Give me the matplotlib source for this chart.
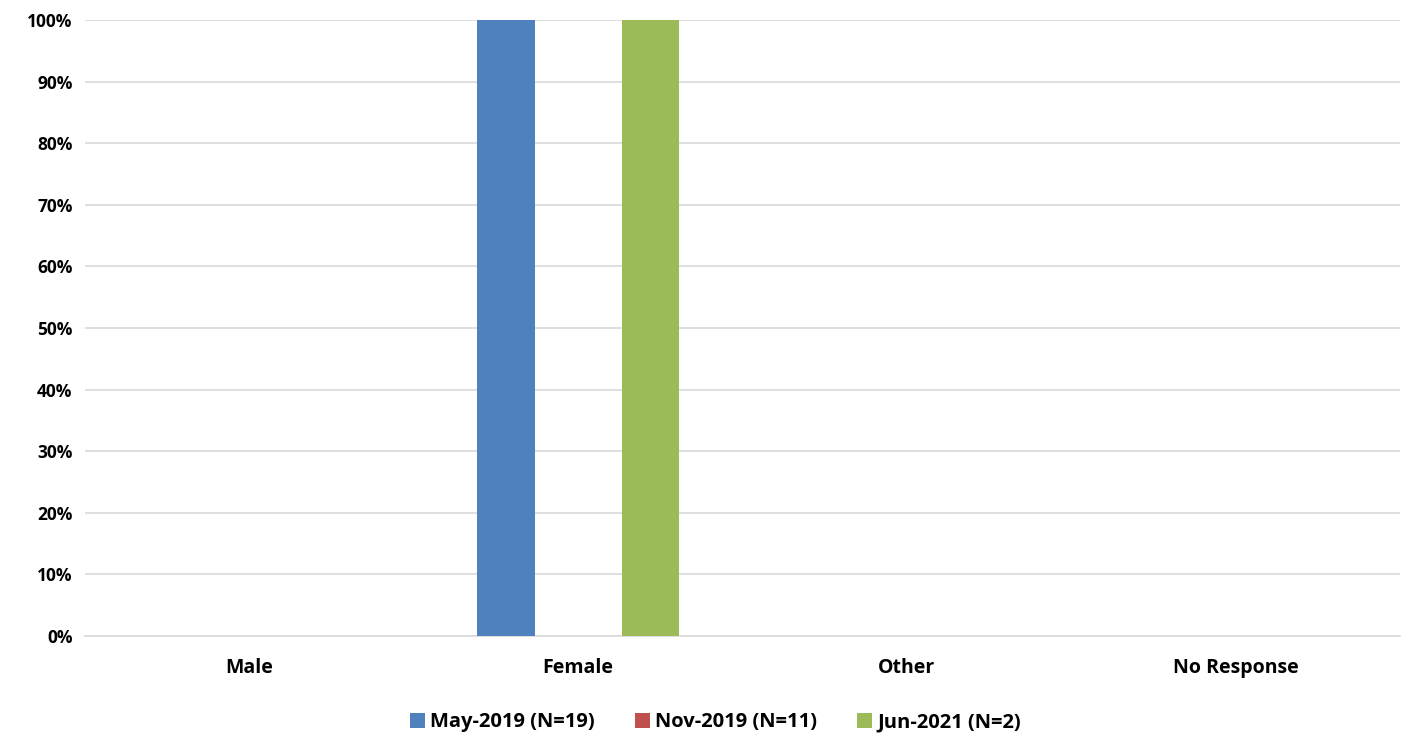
import matplotlib
matplotlib.use("Agg")
import matplotlib.pyplot as plt
import numpy as np
from matplotlib.ticker import PercentFormatter

categories = ["Male", "Female", "Other", "No Response"]
series_names = ["May-2019 (N=19)", "Nov-2019 (N=11)", "Jun-2021 (N=2)"]
may_2019 = [0, 100, 0, 0]
nov_2019 = [0, 0, 0, 0]
jun_2021 = [0, 100, 0, 0]
colors = ["#4F81BD", "#C0504D", "#9BBB59"]

plt.rcParams["font.family"] = ["Open Sans", "DejaVu Sans"]
plt.rcParams["font.weight"] = "bold"

fig = plt.figure(figsize=(14.11, 7.35), dpi=100)
ax = fig.add_axes([85 / 1411, 1 - 636 / 735, 1315 / 1411, 616 / 735])

x = np.arange(len(categories))
width = 0.176
offset = 0.22
for i, (vals, name, c) in enumerate(zip([may_2019, nov_2019, jun_2021], series_names, colors)):
    ax.bar(x + (i - 1) * offset, vals, width, color=c, label=name, zorder=3)

ax.set_xlim(-0.5, len(categories) - 0.5)
ax.set_ylim(0, 100)
ax.set_yticks(np.arange(0, 101, 10))
ax.yaxis.set_major_formatter(PercentFormatter(decimals=0))
ax.set_xticks(x)
ax.set_xticklabels(categories)
ax.tick_params(axis="both", length=0)
ax.tick_params(axis="x", pad=16, labelsize=14)
ax.tick_params(axis="y", pad=9, labelsize=12.5)
for lab in ax.get_xticklabels() + ax.get_yticklabels():
    lab.set_fontweight("bold")

ax.grid(axis="y", color="#D9D9D9", linewidth=1.2, zorder=0)
for s in ["top", "right", "left"]:
    ax.spines[s].set_visible(False)
ax.spines["bottom"].set_color("#D9D9D9")
ax.spines["bottom"].set_linewidth(1.2)

# legend centred on the figure, below the category labels
leg = fig.legend(*ax.get_legend_handles_labels(), loc="upper center",
                 bbox_to_anchor=(0.507, 0.042), ncol=3, frameon=False,
                 fontsize=14.5, handlelength=0.75, handleheight=0.75, handletextpad=0.25,
                 columnspacing=2.0, borderaxespad=0)
for t in leg.get_texts():
    t.set_fontweight("bold")

fig.savefig("out.png", dpi=100)
